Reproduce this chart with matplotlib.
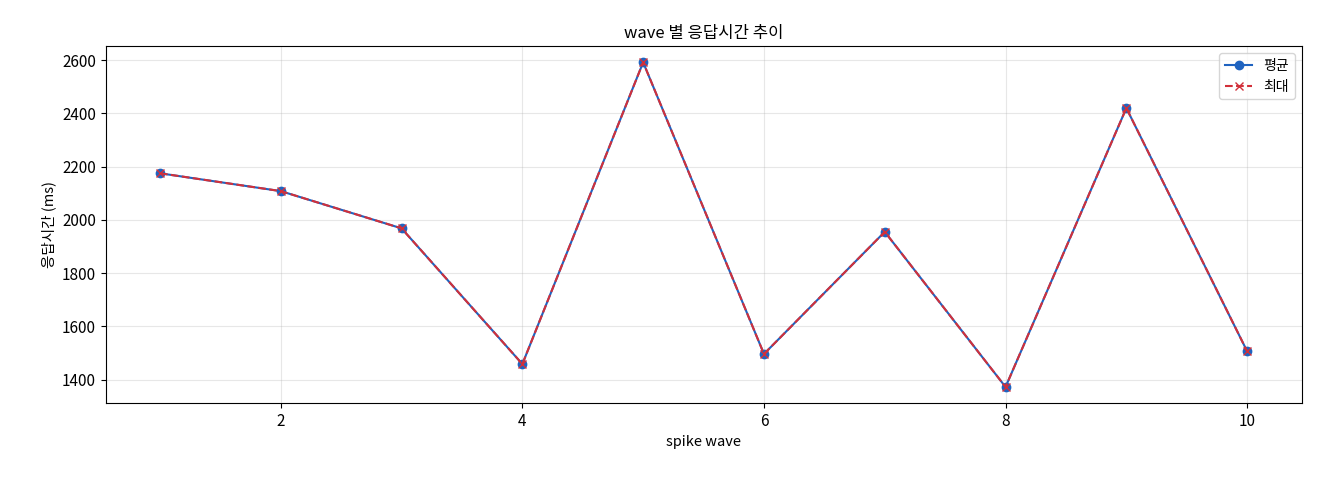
import matplotlib
matplotlib.use("Agg")
import matplotlib.pyplot as plt

plt.rcParams["font.family"] = ["Noto Sans CJK KR", "DejaVu Sans"]

waves = [1, 2, 3, 4, 5, 6, 7, 8, 9, 10]
avg_ms = [2175, 2108, 1968, 1458, 2592, 1496, 1955, 1372, 2420, 1506]
max_ms = [2175, 2108, 1968, 1458, 2592, 1496, 1955, 1372, 2420, 1506]

fig = plt.figure(figsize=(13.2, 4.8), dpi=100)
ax = fig.add_axes([0.080, 0.160, 0.906, 0.744])

ax.plot(waves, avg_ms, marker="o", color="#1f63c0", linewidth=1.5, markersize=6, label="평균")
ax.plot(waves, max_ms, marker="x", linestyle="--", color="#d2303a", linewidth=1.5, markersize=6, label="최대")

ax.set_title("wave 별 응답시간 추이", fontsize=12)
ax.set_xlabel("spike wave", fontsize=10.5)
ax.set_ylabel("응답시간 (ms)", fontsize=10.5)
ax.set_xticks([2, 4, 6, 8, 10])
ax.tick_params(labelsize=11)
ax.grid(True, alpha=0.3)
ax.legend(loc="upper right", fontsize=10)

fig.savefig("out.png", dpi=100)
